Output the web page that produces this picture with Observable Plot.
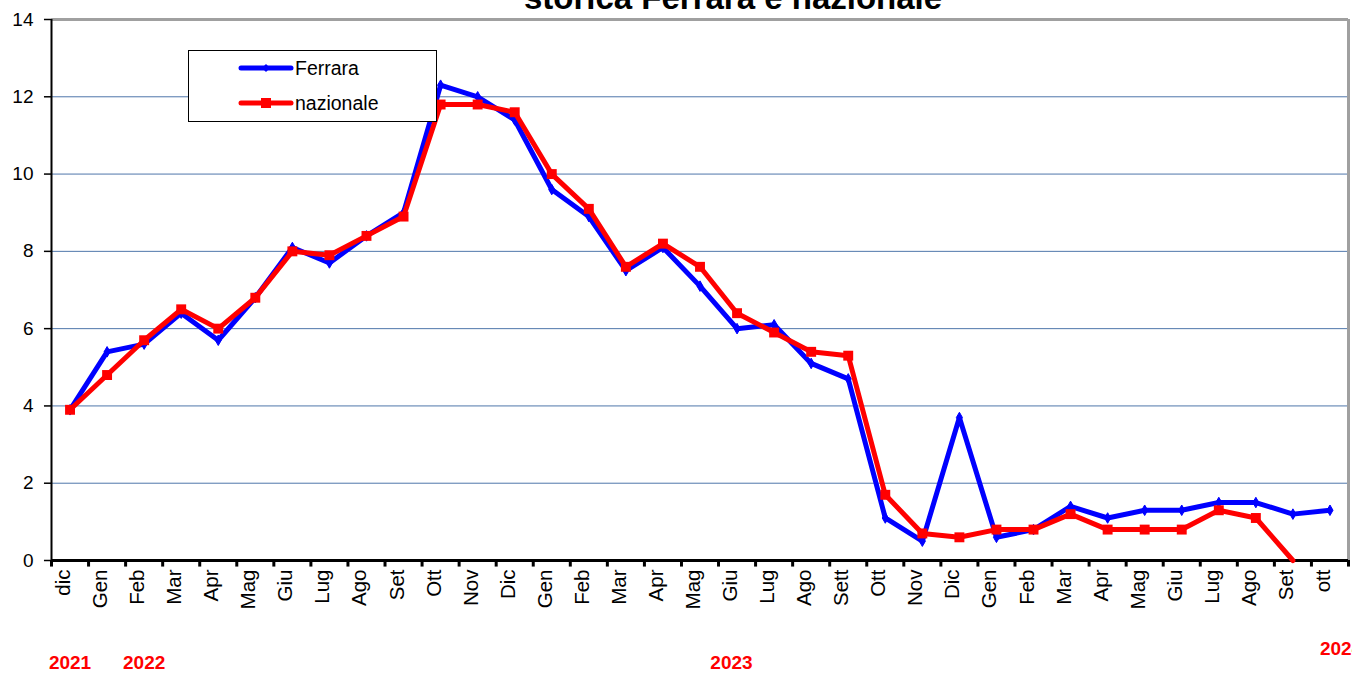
<!DOCTYPE html>
<html>
<head>
<meta charset="utf-8">
<script src="https://cdn.jsdelivr.net/npm/d3@7"></script>
<script src="https://cdn.jsdelivr.net/npm/@observablehq/plot@0.6"></script>
<style>
  html, body { margin: 0; padding: 0; background: #fff; overflow: hidden; }
  #chart svg { display: block; overflow: hidden; }
</style>
</head>
<body>
<div id="chart"></div>
<script>
const months = ["dic","Gen","Feb","Mar","Apr","Mag","Giu","Lug","Ago","Set","Ott","Nov","Dic",
  "Gen","Feb","Mar","Apr","Mag","Giu","Lug","Ago","Sett","Ott","Nov","Dic",
  "Gen","Feb","Mar","Apr","Mag","Giu","Lug","Ago","Set","ott"];
const ferrara = [3.9,5.4,5.6,6.4,5.7,6.8,8.1,7.7,8.4,9.0,12.3,12.0,11.4,
  9.6,8.9,7.5,8.1,7.1,6.0,6.1,5.1,4.7,1.1,0.5,3.7,
  0.6,0.8,1.4,1.1,1.3,1.3,1.5,1.5,1.2,1.3];
const nazionale = [3.9,4.8,5.7,6.5,6.0,6.8,8.0,7.9,8.4,8.9,11.8,11.8,11.6,
  10.0,9.1,7.6,8.2,7.6,6.4,5.9,5.4,5.3,1.7,0.7,0.6,
  0.8,0.8,1.2,0.8,0.8,0.8,1.3,1.1,0,null];
const yTicks = [0,2,4,6,8,10,12,14];
const yearLabels = ["2021","2022","2023","2024"];
const yearAtMonth = [0, 2, 17.85, 34.3];
const seriesNames = ["Ferrara","nazionale"];
const titleText = "storica Ferrara e nazionale";

const FONT = "'Liberation Sans', Arial, sans-serif";
const BLUE = "#0000ff", RED = "#ff0000";

const ferData = ferrara.map((v,i)=>({i, v}));
const nazData = nazionale.map((v,i)=>({i, v})).filter(d=>d.v != null);
const yearData = yearLabels.map((t,k)=>({t, x: yearAtMonth[k]}));
const boundaries = d3.range(months.length + 1).map(k=>k - 0.5);
const n = months.length;

const plot = Plot.plot({
  width: 1352, height: 673,
  marginTop: 19, marginBottom: 113, marginLeft: 51, marginRight: 4,
  style: {fontFamily: FONT, background: "#fff", color: "#000"},
  x: {domain: [-0.5, n - 0.5], axis: null},
  y: {domain: [0, 14], axis: null},
  marks: [
    Plot.ruleY(yTicks.filter(t=>t>0 && t<14), {stroke: "#4f76aa", strokeWidth: 1}),
    Plot.ruleY([14], {stroke: "#a0a0a0", strokeWidth: 3}),
    Plot.ruleX([n - 0.5], {stroke: "#a0a0a0", strokeWidth: 3}),
    Plot.ruleY(yTicks, {x1: -0.5 - 0.19, x2: -0.5, stroke: "#000", strokeWidth: 1.5}),
    Plot.ruleX(boundaries, {y1: 0, y2: -0.17, stroke: "#000", strokeWidth: 3}),
    Plot.ruleX([-0.5], {stroke: "#000", strokeWidth: 2}),
    Plot.ruleY([0], {stroke: "#000", strokeWidth: 3}),
    Plot.text(yTicks, {x: -0.5, y: d=>d, text: d=>String(d), textAnchor: "end", dx: -18, fontSize: 19, fill: "#000"}),
    Plot.text(months, {x: (d,i)=>i, frameAnchor: "bottom", text: d=>d, rotate: -90, textAnchor: "end", dy: 9, fontSize: 20.5, fill: "#000"}),
    Plot.text(yearData.slice(0, 3), {x: "x", frameAnchor: "bottom", text: "t", dy: 108, fontSize: 19, fontWeight: "bold", fill: RED}),
    Plot.text(yearData.slice(3), {x: "x", frameAnchor: "bottom", text: "t", dy: 94, fontSize: 19, fontWeight: "bold", fill: RED}),
    Plot.text([titleText], {frameAnchor: "top", dx: 33, dy: -11, lineAnchor: "bottom", fontSize: 33, fontWeight: "bold", fill: "#000"}),
    Plot.line(ferData, {x: "i", y: "v", stroke: BLUE, strokeWidth: 5, strokeLinejoin: "miter"}),
    Plot.dot(ferData, {x: "i", y: "v", symbol: "diamond", r: 3.2, fill: BLUE, stroke: BLUE, strokeWidth: 1}),
    Plot.line(nazData, {x: "i", y: "v", stroke: RED, strokeWidth: 5, strokeLinejoin: "miter"}),
    Plot.dot(nazData.filter(d=>d.v > 0), {x: "i", y: "v", symbol: "square", r: 5.6, fill: RED})
  ]
});
document.getElementById("chart").appendChild(plot);

// Legend box
const svg = d3.select(plot);
const lg = svg.append("g").attr("font-family", FONT).attr("text-anchor", "start");
lg.append("rect").attr("x", 188.5).attr("y", 50.5).attr("width", 248).attr("height", 71)
  .attr("fill", "#fff").attr("stroke", "#000").attr("stroke-width", 1);
const rows = [{name: seriesNames[0], color: BLUE, sym: "diamond", y: 68},
              {name: seriesNames[1], color: RED, sym: "square", y: 103}];
rows.forEach(r=>{
  lg.append("line").attr("x1", 241).attr("x2", 291).attr("y1", r.y).attr("y2", r.y)
    .attr("stroke", r.color).attr("stroke-width", 5).attr("stroke-linecap", "round");
  if (r.sym === "square") {
    lg.append("rect").attr("x", 261).attr("y", r.y - 5).attr("width", 10).attr("height", 10).attr("fill", r.color);
  } else {
    lg.append("path").attr("d", `M266,${r.y-4}L270,${r.y}L266,${r.y+4}L262,${r.y}Z`).attr("fill", r.color);
  }
  lg.append("text").attr("x", 295).attr("y", r.y).attr("dy", "0.35em").attr("text-anchor", "start")
    .attr("font-size", 19.5).attr("fill", "#000").text(r.name);
});
</script>
</body>
</html>
